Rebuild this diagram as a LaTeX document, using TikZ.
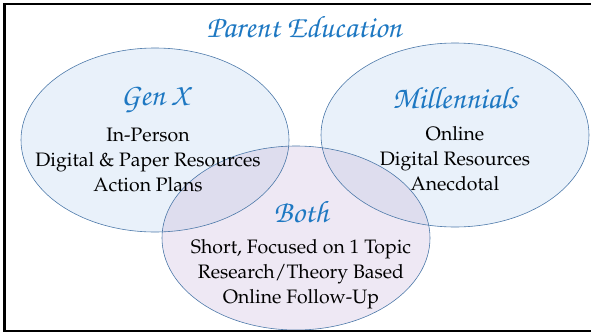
\documentclass[tikz,border=0pt]{standalone}
\usepackage[T1,TU]{fontenc}
\usetikzlibrary{positioning}
\definecolor{venbleu}{HTML}{E9F1FA}
\definecolor{venmauve}{HTML}{EEE8F4}
\definecolor{veninter}{HTML}{DEDDEE}
\definecolor{contour}{HTML}{4A77A8}
\definecolor{titrebleu}{HTML}{1E78C2}
\newcommand{\chancery}{\fontencoding{T1}\fontfamily{pzc}\fontseries{mb}\fontshape{it}\selectfont}
\newcommand{\palatin}{\fontencoding{T1}\fontfamily{ppl}\fontseries{m}\fontshape{n}\selectfont}

\begin{document}
\begin{tikzpicture}[x=0.03cm, y=-0.03cm,
    titre/.style={font=\chancery\fontsize{26.5}{30}\selectfont, text=titrebleu},
    corps/.style={font=\palatin\fontsize{16.6}{21.3}\selectfont, align=center}]

  \useasboundingbox (0,0) rectangle (591,333);

  % Ellipses
  \pgfmathsetmacro{\rx}{134}
  \pgfmathsetmacro{\ry}{92}
  \fill[venbleu] (155,140) ellipse [x radius=\rx, y radius=\ry];
  \fill[venbleu] (455,135) ellipse [x radius=\rx, y radius=\ry];
  \fill[venmauve] (296,238) ellipse [x radius=\rx, y radius=\ry];

  % Zones communes
  \begin{scope}
    \clip (155,140) ellipse [x radius=\rx, y radius=\ry];
    \fill[veninter] (296,238) ellipse [x radius=\rx, y radius=\ry];
  \end{scope}
  \begin{scope}
    \clip (455,135) ellipse [x radius=\rx, y radius=\ry];
    \fill[veninter] (296,238) ellipse [x radius=\rx, y radius=\ry];
  \end{scope}

  % Contours
  \draw[contour, line width=0.5pt] (155,140) ellipse [x radius=\rx, y radius=\ry];
  \draw[contour, line width=0.5pt] (455,135) ellipse [x radius=\rx, y radius=\ry];
  \draw[contour, line width=0.5pt] (296,238) ellipse [x radius=\rx, y radius=\ry];

  % Cadre
  \draw[line width=2.5pt] (600,4) -- (4.5,4) -- (4.5,331) -- (600,331);

  % Textes
  \node[titre] (titre) at (304,27) {Parent Education};
  \node[titre] (genx) at (155,100) {Gen X};
  \node[titre] (millen) at (455,98) {Millennials};
  \node[titre] (both) at (301,212) {Both};

  \node[corps] (genxliste) at (148,160) {In-Person\\Digital \& Paper Resources\\Action Plans};
  \node[corps] (millenliste) at (455,159) {Online\\Digital Resources\\Anecdotal};
  \node[corps] (bothliste) at (301,274) {Short, Focused on 1 Topic\\Research/Theory Based\\Online Follow-Up};

\end{tikzpicture}
\end{document}
